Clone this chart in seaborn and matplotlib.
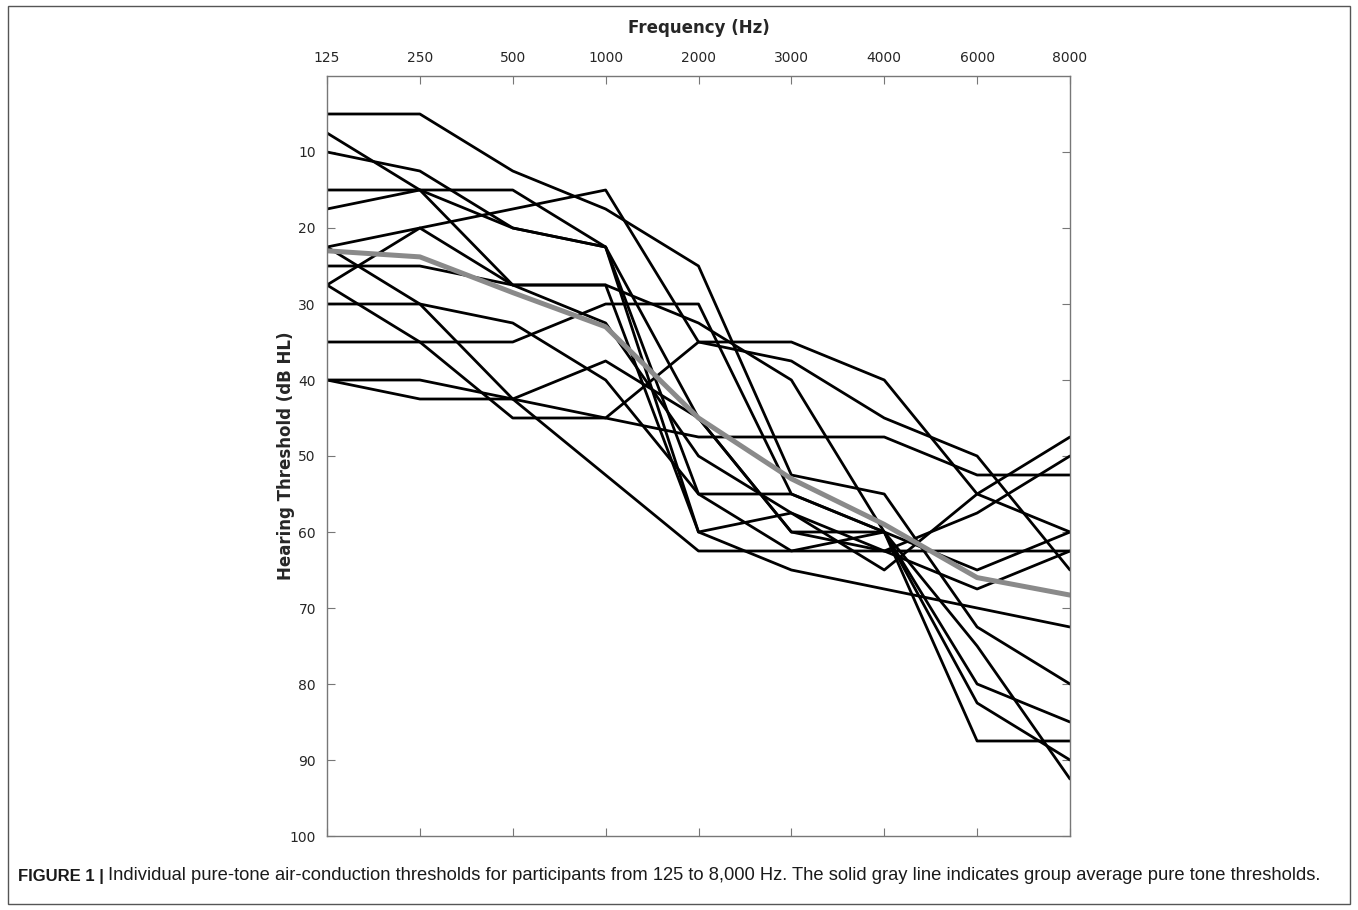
import pandas as pd
import matplotlib.pyplot as plt
import seaborn as sns

freqs = ['125', '250', '500', '1000', '2000', '3000', '4000', '6000', '8000']

# individual thresholds (dB HL)
p01 = [5, 5, 12.5, 17.5, 25, 52.5, 55, 72.5, 80]
p02 = [7.5, 15, 27.5, 32.5, 50, 57.5, 62.5, 67.5, 62.5]
p03 = [10, 12.5, 20, 22.5, 60, 65, 67.5, 70, 72.5]
p04 = [15, 15, 15, 22.5, 55, 55, 60, 87.5, 87.5]
p05 = [17.5, 15, 20, 22.5, 45, 60, 60, 80, 85]
p06 = [22.5, 20, 17.5, 15, 35, 35, 40, 55, 60]
p07 = [22.5, 30, 32.5, 40, 55, 62.5, 60, 75, 92.5]
p08 = [25, 25, 27.5, 27.5, 32.5, 40, 60, 82.5, 90]
p09 = [27.5, 20, 27.5, 27.5, 60, 57.5, 65, 55, 47.5]
p10 = [27.5, 35, 45, 45, 35, 37.5, 45, 50, 65]
p11 = [30, 30, 42.5, 37.5, 45, 60, 62.5, 57.5, 50]
p12 = [35, 35, 35, 30, 30, 55, 60, 65, 60]
p13 = [40, 40, 42.5, 45, 47.5, 47.5, 47.5, 52.5, 52.5]
p14 = [40, 42.5, 42.5, 52.5, 62.5, 62.5, 62.5, 62.5, 62.5]

group_mean = [23, 23.8, 28.5, 33, 45, 53, 59, 66, 68.3]

participants = [p01, p02, p03, p04, p05, p06, p07, p08, p09, p10, p11, p12, p13, p14]

rows = []
for pid, vals in enumerate(participants):
    for i, v in enumerate(vals):
        rows.append({'participant': pid, 'pos': i, 'db': v})
df = pd.DataFrame(rows)
mean_df = pd.DataFrame({'pos': range(len(freqs)), 'db': group_mean})

sns.set_style('white')
plt.rcParams['font.family'] = ['DejaVu Sans']

fig = plt.figure(figsize=(13.58, 9.10), dpi=100)
ax = fig.add_axes([327 / 1358, 1 - 836 / 910, (1070 - 327) / 1358, (836 - 76) / 910])

sns.lineplot(data=df, x='pos', y='db', units='participant', estimator=None,
             color='black', linewidth=2.0, ax=ax, legend=False)
sns.lineplot(data=mean_df, x='pos', y='db', color='#8a8a8a', linewidth=3.6, ax=ax)

ax.set_xlim(0, len(freqs) - 1)
ax.set_ylim(100, 0)
ax.set_xticks(range(len(freqs)))
ax.set_xticklabels(freqs, fontsize=10)
ax.set_yticks(range(10, 101, 10))
ax.set_yticklabels([str(v) for v in range(10, 101, 10)], fontsize=10)
ax.xaxis.tick_top()
ax.xaxis.set_label_position('top')
ax.tick_params(axis='x', direction='in', top=True, bottom=True, length=6, width=0.8,
               color='#777777', pad=8)
ax.tick_params(axis='y', direction='in', left=True, right=True, length=6, width=0.8,
               color='#777777', pad=8)
for s in ax.spines.values():
    s.set_color('#777777')
    s.set_linewidth(1.0)

ax.set_xlabel('Frequency (Hz)', fontsize=12, fontweight='bold', labelpad=13)
ax.set_ylabel('Hearing Threshold (dB HL)', fontsize=12, fontweight='bold', labelpad=-4)

# outer figure frame
fig.patches.append(plt.Rectangle((8 / 1358, 6 / 910), 1342 / 1358, 1 - 12 / 910,
                                 transform=fig.transFigure, fill=False,
                                 edgecolor='#555555', linewidth=1.0))

fig.text(18 / 1358, 1 - 876 / 910, 'FIGURE 1 |', fontsize=12, fontweight='bold',
         family=['Liberation Sans', 'DejaVu Sans'],
         va='center', ha='left', color='#1a1a1a')
fig.text(108 / 1358, 1 - 876 / 910,
         'Individual pure-tone air-conduction thresholds for participants from 125 to 8,000 Hz. '
         'The solid gray line indicates group average pure tone thresholds.',
         fontsize=13.2, family=['Liberation Sans', 'DejaVu Sans'],
         va='center', ha='left', color='#1a1a1a')

fig.savefig('out.png', dpi=100)
